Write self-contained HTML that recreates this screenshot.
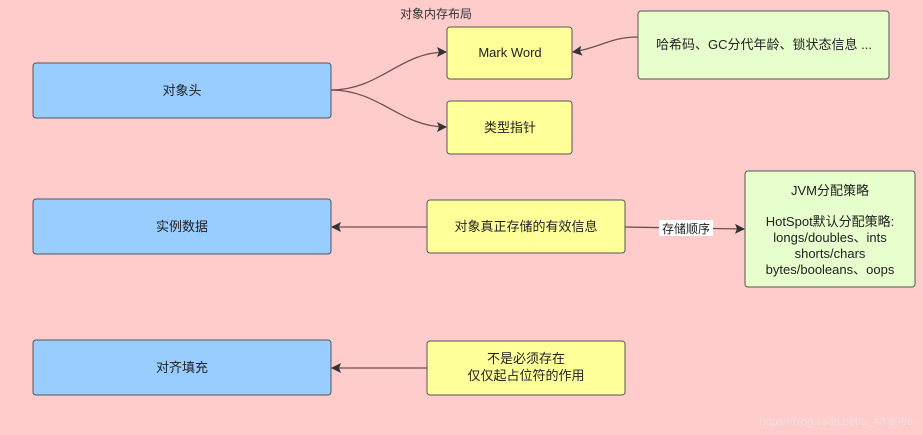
<!DOCTYPE html>
<html><head><meta charset="utf-8"><style>
body{margin:0;background:#ffcccc;}
svg{display:block;font-family:"Liberation Sans","Noto Sans CJK SC",sans-serif;}
</style></head><body>
<svg width="923" height="435" viewBox="0 0 923 435" xmlns="http://www.w3.org/2000/svg">
<defs><marker id="a" markerWidth="10" markerHeight="10" refX="9" refY="5" orient="auto" markerUnits="userSpaceOnUse"><path d="M0,0 L10,5 L0,10 L2,5 z" fill="#333"/></marker></defs>
<rect width="923" height="435" fill="#ffcccc"/>
<g stroke="#6f5050" stroke-width="1.3" fill="none">
<path d="M331,90 C380,90 400,52 446,52" marker-end="url(#a)"/>
<path d="M331,90 C380,90 400,127 446,127" marker-end="url(#a)"/>
<path d="M638,37 C610,37 600,48 573,52" marker-end="url(#a)"/>
<path d="M427,227 L332,227" marker-end="url(#a)"/>
<path d="M625,227 L744,229" marker-end="url(#a)"/>
<path d="M427,368 L332,368" marker-end="url(#a)"/>
</g>
<g stroke="#555" stroke-width="1">
<rect x="33" y="63" width="298" height="55" rx="3" fill="#99ccff"/>
<rect x="33" y="199" width="298" height="55" rx="3" fill="#99ccff"/>
<rect x="33" y="340" width="298" height="55" rx="3" fill="#99ccff"/>
<rect x="447" y="27" width="125" height="52" rx="3" fill="#ffff99"/>
<rect x="447" y="101" width="125" height="53" rx="3" fill="#ffff99"/>
<rect x="638" y="11" width="251" height="68" rx="3" fill="#e6ffcc"/>
<rect x="427" y="200" width="198" height="53" rx="3" fill="#ffff99"/>
<rect x="745" y="171" width="170" height="116" rx="3" fill="#e6ffcc"/>
<rect x="427" y="341" width="198" height="54" rx="3" fill="#ffff99"/>
</g>
<rect x="659" y="220" width="54" height="16" fill="#fff"/>
<g font-size="13" fill="#222" text-anchor="middle">
<text x="436" y="18" font-size="12" fill="#333">对象内存布局</text>
<text x="182" y="95">对象头</text>
<text x="182" y="231">实例数据</text>
<text x="182" y="372">对齐填充</text>
<text x="510" y="57">Mark Word</text>
<text x="510" y="132">类型指针</text>
<text x="764" y="49">哈希码、GC分代年龄、锁状态信息 ...</text>
<text x="526" y="231">对象真正存储的有效信息</text>
<text x="686" y="233" font-size="12">存储顺序</text>
<text x="830" y="195">JVM分配策略</text>
<text x="830" y="226">HotSpot默认分配策略:</text>
<text x="830" y="242">longs/doubles、ints</text>
<text x="830" y="258">shorts/chars</text>
<text x="830" y="274">bytes/booleans、oops</text>
<text x="526" y="363">不是必须存在</text>
<text x="526" y="380">仅仅起占位符的作用</text>
</g>
<text x="913" y="425" font-size="11" fill="#f4dede" text-anchor="end" font-family="Liberation Sans,sans-serif">https://blog.csdn.net/a_43 6096</text>
</svg>
</body></html>
